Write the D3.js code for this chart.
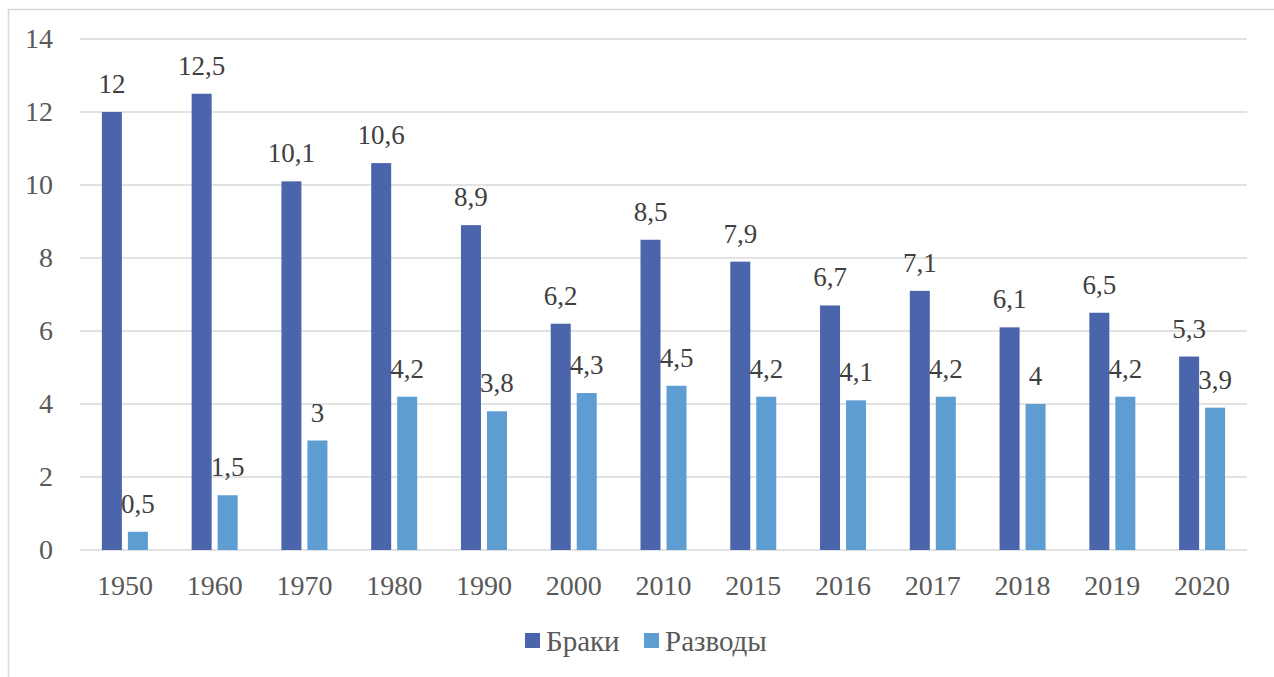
<!DOCTYPE html>
<html>
<head>
<meta charset="utf-8">
<script src="https://d3js.org/d3.v7.min.js"></script>
<style>
  #chart text { font-family: 'Liberation Serif', 'Times New Roman', serif !important; }
</style>
</head>
<body style="margin:0; background:#fff">
<div id="chart"></div>
<script>
    // data
    const years = ["1950", "1960", "1970", "1980", "1990", "2000", "2010", "2015", "2016", "2017", "2018", "2019", "2020"];
    const marriages = [12, 12.5, 10.1, 10.6, 8.9, 6.2, 8.5, 7.9, 6.7, 7.1, 6.1, 6.5, 5.3];
    const divorces = [0.5, 1.5, 3, 4.2, 3.8, 4.3, 4.5, 4.2, 4.1, 4.2, 4, 4.2, 3.9];
    const seriesNames = ["Браки", "Разводы"];
    const yTicks = [0, 2, 4, 6, 8, 10, 12, 14];

    const colors = ["#4A65AC", "#5E9DD2"];
    const FONT = "Liberation Serif";
    const W = 1274, H = 677;
    let margin = {top: 39, right: 27, bottom: 127, left: 80},
        width = W - margin.left - margin.right,
        height = H - margin.top - margin.bottom;

    const fmt = v => String(v).replace(".", ",");

    let svg = d3.select("#chart").append("svg")
      .attr("width", W)
      .attr("height", H)
      .attr("font-family", FONT)
      .style("font-family", FONT);

    // outer frame (runs off the right and bottom edges)
    svg.append("rect")
      .attr("x", 8.5).attr("y", 9.5)
      .attr("width", W + 20).attr("height", H + 20)
      .attr("fill", "none")
      .attr("stroke", "#d9d9d9")
      .attr("stroke-width", 1.5);

    let g = svg.append("g")
      .attr("transform", "translate(" + margin.left + "," + margin.top + ")");

    let x = d3.scaleBand()
      .domain(years)
      .range([0, width]);

    let y = d3.scaleLinear()
      .domain([0, 14])
      .range([height, 0]);

    // gridlines
    g.append("g")
      .selectAll("line")
      .data(yTicks)
      .join("line")
        .attr("x1", 0).attr("x2", width)
        .attr("y1", d => y(d)).attr("y2", d => y(d))
        .attr("stroke", "#d9d9d9")
        .attr("stroke-width", 1.5);

    // y axis
    let yAxis = g.append("g")
      .call(d3.axisLeft(y).tickValues(yTicks).tickSize(0).tickPadding(27).tickFormat(fmt))
      .attr("font-family", FONT)
      .attr("font-size", 28);
    yAxis.select(".domain").remove();
    yAxis.selectAll("text").attr("fill", "#595959");

    // x axis
    let xAxis = g.append("g")
      .attr("transform", "translate(0," + height + ")")
      .call(d3.axisBottom(x).tickSize(0).tickPadding(25))
      .attr("font-family", FONT)
      .attr("font-size", 28);
    xAxis.select(".domain").remove();
    xAxis.selectAll("text").attr("fill", "#595959");

    // inner scale for the two bars in each group
    const barW = 20, gap = 6;
    let xs = d3.scaleOrdinal()
      .domain([0, 1])
      .range([-(barW + gap / 2), gap / 2]);

    const series = [marriages, divorces];
    series.forEach(function (vals, si) {
      let grp = g.append("g");
      grp.selectAll("rect")
        .data(vals)
        .join("rect")
          .attr("x", (d, i) => x(years[i]) + x.bandwidth() / 2 + xs(si))
          .attr("y", d => y(d))
          .attr("width", barW)
          .attr("height", d => height - y(d))
          .attr("fill", colors[si]);

      grp.selectAll("text")
        .data(vals)
        .join("text")
          .attr("x", (d, i) => x(years[i]) + x.bandwidth() / 2 + xs(si) + barW / 2)
          .attr("y", d => y(d) - 19)
          .attr("text-anchor", "middle")
          .attr("font-size", 27)
          .attr("fill", "#404040")
          .text(fmt);
    });

    // legend
    let legend = svg.append("g");
    const legX = [525, 644];
    seriesNames.forEach(function (name, i) {
      legend.append("rect")
        .attr("x", legX[i]).attr("y", 633)
        .attr("width", 15).attr("height", 15)
        .attr("fill", colors[i]);
      legend.append("text")
        .attr("x", legX[i] + 21).attr("y", 651)
        .attr("font-size", 29)
        .attr("fill", "#595959")
        .text(name);
    });
</script>
</body>
</html>
